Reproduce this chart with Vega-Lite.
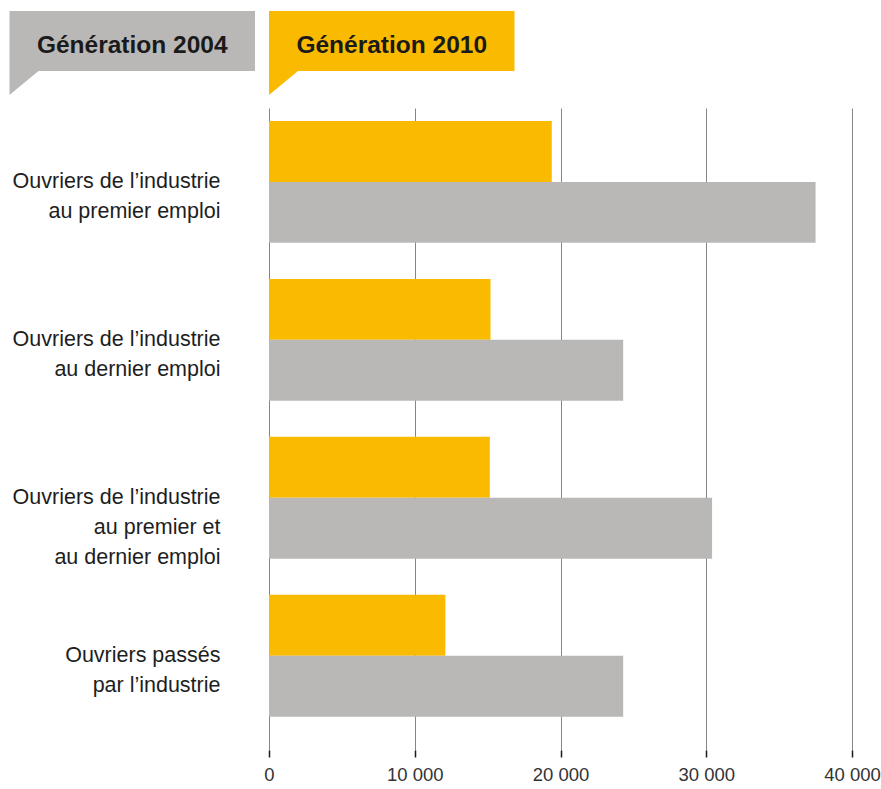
{
  "$schema": "https://vega.github.io/schema/vega-lite/v6.json",
  "padding": {"left": 9, "top": 11, "right": 0, "bottom": 0},
  "background": "white",
  "config": {"view": {"stroke": null}, "font": "Liberation Sans"},
  "spacing": 13,
  "vconcat": [
    {
      "width": 246,
      "height": 84,
      "data": {"values": [{"gen": "Génération 2004"}, {"gen": "Génération 2010"}]},
      "encoding": {
        "x": {"field": "gen", "type": "nominal", "axis": null,
              "scale": {"type": "band", "range": [-259.5, 245.5], "paddingInner": 0.054, "paddingOuter": 0}}
      },
      "layer": [
        {
          "mark": {"type": "point", "filled": true, "opacity": 1, "size": 7056, "strokeWidth": 0,
                   "shape": "M-2.9226,-1L2.9226,-1L2.9226,0.4286L-2.2326,0.4286L-2.9226,1Z"},
          "encoding": {
            "color": {"field": "gen", "type": "nominal",
                      "scale": {"domain": ["Génération 2004", "Génération 2010"], "range": ["#B9B8B6", "#FABA00"]},
                      "legend": null}
          }
        },
        {
          "mark": {"type": "text", "font": "Liberation Sans", "fontWeight": "bold", "fontSize": 24.5,
                   "baseline": "alphabetic", "align": "center", "color": "#1a1a1a"},
          "encoding": {"text": {"field": "gen"}}
        }
      ]
    },
    {
      "width": 583,
      "height": 642,
      "data": {"values": [
        {"cat": "Ouvriers de l’industrie|au premier emploi", "gen": "Génération 2010", "value": 19400},
        {"cat": "Ouvriers de l’industrie|au premier emploi", "gen": "Génération 2004", "value": 37500},
        {"cat": "Ouvriers de l’industrie|au dernier emploi", "gen": "Génération 2010", "value": 15200},
        {"cat": "Ouvriers de l’industrie|au dernier emploi", "gen": "Génération 2004", "value": 24300},
        {"cat": "Ouvriers de l’industrie|au premier et|au dernier emploi", "gen": "Génération 2010", "value": 15150},
        {"cat": "Ouvriers de l’industrie|au premier et|au dernier emploi", "gen": "Génération 2004", "value": 30400},
        {"cat": "Ouvriers passés|par l’industrie", "gen": "Génération 2010", "value": 12100},
        {"cat": "Ouvriers passés|par l’industrie", "gen": "Génération 2004", "value": 24300}
      ]},
      "mark": {"type": "bar"},
      "encoding": {
        "y": {"field": "cat", "type": "nominal", "sort": null,
              "scale": {"paddingInner": 0.228, "paddingOuter": 0.146, "align": 0.28},
              "axis": {"title": null, "domain": false, "ticks": false,
                       "labelExpr": "split(datum.label, '|')",
                       "labelFont": "Liberation Sans", "labelFontSize": 21.5, "labelColor": "#1e1e1e",
                       "labelLineHeight": 30, "labelPadding": 49, "minExtent": 259, "maxExtent": 259,
                       "labelLimit": 0, "labelAlign": "right", "labelBaseline": "middle"}},
        "yOffset": {"field": "gen", "type": "nominal", "sort": ["Génération 2010", "Génération 2004"],
                    "scale": {"paddingInner": 0, "paddingOuter": 0}},
        "x": {"field": "value", "type": "quantitative",
              "scale": {"domain": [0, 40000], "nice": false},
              "axis": {"title": null, "values": [0, 10000, 20000, 30000, 40000],
                       "grid": true, "gridColor": "#858585", "gridWidth": 1, "gridOpacity": 1,
                       "domain": false, "tickColor": "#1a1a1a", "tickSize": 7, "tickWidth": 1.5,
                       "labelFont": "Liberation Sans", "labelFontSize": 18.5, "labelColor": "#333333",
                       "labelPadding": 8, "labelFlush": false, "labelOverlap": false,
                       "labelExpr": "replace(format(datum.value, ',d'), ',', ' ')"}},
        "color": {"field": "gen", "type": "nominal",
                  "scale": {"domain": ["Génération 2004", "Génération 2010"], "range": ["#B9B8B6", "#FABA00"]},
                  "legend": null}
      }
    }
  ]
}
